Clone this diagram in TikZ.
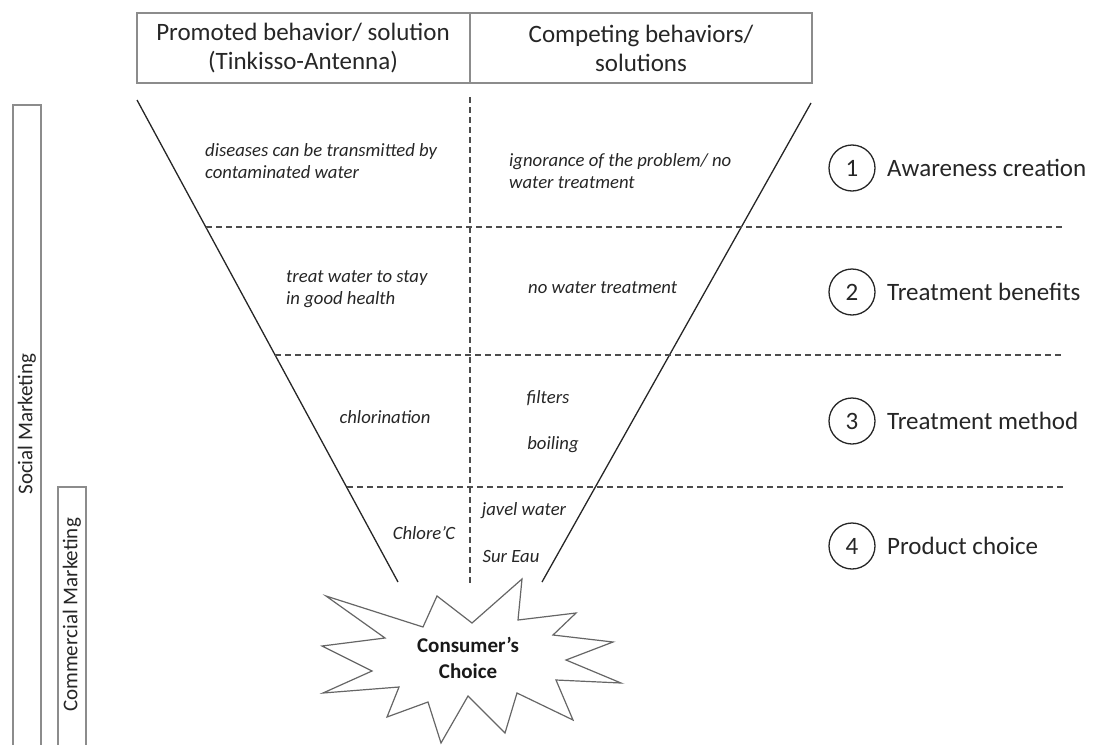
\documentclass[tikz,border=0pt]{standalone}
\usepackage{fontspec}
\setmainfont{Carlito}
\begin{document}
\begin{tikzpicture}[x=1pt,y=-1pt,
  bar/.style={draw=black!45, line width=1.5pt},
  funnel/.style={draw=black!85, line width=1.3pt},
  sep/.style={draw=black!70, line width=1.2pt, dash pattern=on 6pt off 4pt},
  rowtxt/.style={font=\fontsize{18.7}{22}\selectfont\itshape, inner sep=0pt, text=black!85, align=left},
  headtxt/.style={font=\fontsize{25}{29}\selectfont, inner sep=0pt, text=black!85, align=center},
  vtxt/.style={font=\fontsize{21}{25}\selectfont, inner sep=0pt, text=black!85, rotate=90},
  numcirc/.style={circle, draw=black!85, line width=1.3pt, minimum size=46pt, inner sep=0pt, font=\fontsize{25}{29}\selectfont, text=black!85},
  steplabel/.style={font=\fontsize{25}{29}\selectfont, inner sep=0pt, text=black!85, anchor=west},
  burst/.style={draw=black!60, line width=1.2pt, fill=white}
]
\useasboundingbox (0,0) rectangle (1094,744);

% side bars
\draw[bar] (13,750) -- (13,105) -- (41,105) -- (41,750);
\node[vtxt] (social) at (27,424) {Social Marketing};
\draw[bar] (58,750) -- (58,487) -- (86,487) -- (86,750);
\node[vtxt] (commercial) at (72,615) {Commercial Marketing};

% header
\draw[bar] (137,13) rectangle (812,83);
\draw[bar] (470,13) -- (470,83);
\node[headtxt] (hleft) at (303,48) {Promoted behavior/ solution\\(Tinkisso-Antenna)};
\node[headtxt] (hright) at (641,48) {Competing behaviors/\\solutions};

% funnel
\coordinate (LT) at (137,100);
\coordinate (LB) at (398,582);
\coordinate (RT) at (811,103);
\coordinate (RB) at (542,582);
\draw[funnel] (LT) -- (LB);
\draw[funnel] (RT) -- (RB);

\coordinate (VT) at (470,97);
\coordinate (VB) at (470,583);
\draw[sep] (VT) -- (VB);

\coordinate (S1a) at (206,227);   \coordinate (S1b) at (1063,227);
\coordinate (S2a) at (275,355);   \coordinate (S2b) at (1063,355);
\coordinate (S3a) at (347,487);   \coordinate (S3b) at (1063,487);
\draw[sep] (S1a) -- (S1b);
\draw[sep] (S2a) -- (S2b);
\draw[sep] (S3a) -- (S3b);

% row texts
\node[rowtxt, anchor=west] (r1l) at (205,161) {diseases can be transmitted by\\contaminated water};
\node[rowtxt, anchor=west] (r1r) at (509,171) {ignorance of the problem/ no\\water treatment};
\node[rowtxt, anchor=west] (r2l) at (286,289) {treat water to stay\\in good health};
\node[rowtxt, anchor=west] (r2r) at (528,288) {no water treatment};
\node[rowtxt] (r3l) at (385,417) {chlorination};
\node[rowtxt] (r3a) at (548,398) {filters};
\node[rowtxt] (r3b) at (553,445) {boiling};
\node[rowtxt] (r4a) at (524,511) {javel water};
\node[rowtxt] (r4l) at (424,533) {Chlore’C};
\node[rowtxt] (r4b) at (511,556) {Sur Eau};

% step labels
\node[numcirc] (c1) at (852,168) {1};
\node[steplabel] (t1) at (887,168) {Awareness creation};
\node[numcirc] (c2) at (852,292) {2};
\node[steplabel] (t2) at (887,292) {Treatment benefits};
\node[numcirc] (c3) at (852,421) {3};
\node[steplabel] (t3) at (887,421) {Treatment method};
\node[numcirc] (c4) at (852,546) {4};
\node[steplabel] (t4) at (887,546) {Product choice};

% starburst
\draw[burst] (522,579) -- (518,620) -- (576,613) -- (553,635) -- (613,642) -- (566,660)
  -- (621,683) -- (556,680) -- (573,720) -- (517,693) -- (505,733) -- (468,696)
  -- (441,743) -- (428,702) -- (387,717) -- (399,687) -- (323,693) -- (372,671)
  -- (322,646) -- (385,638) -- (326,596) -- (423,627) -- (437,596) -- (472,623) -- cycle;
\node[font=\fontsize{21}{26}\selectfont\bfseries, align=center, inner sep=0pt, text=black!90] (choice) at (468,658) {Consumer’s\\Choice};
\end{tikzpicture}
\end{document}
